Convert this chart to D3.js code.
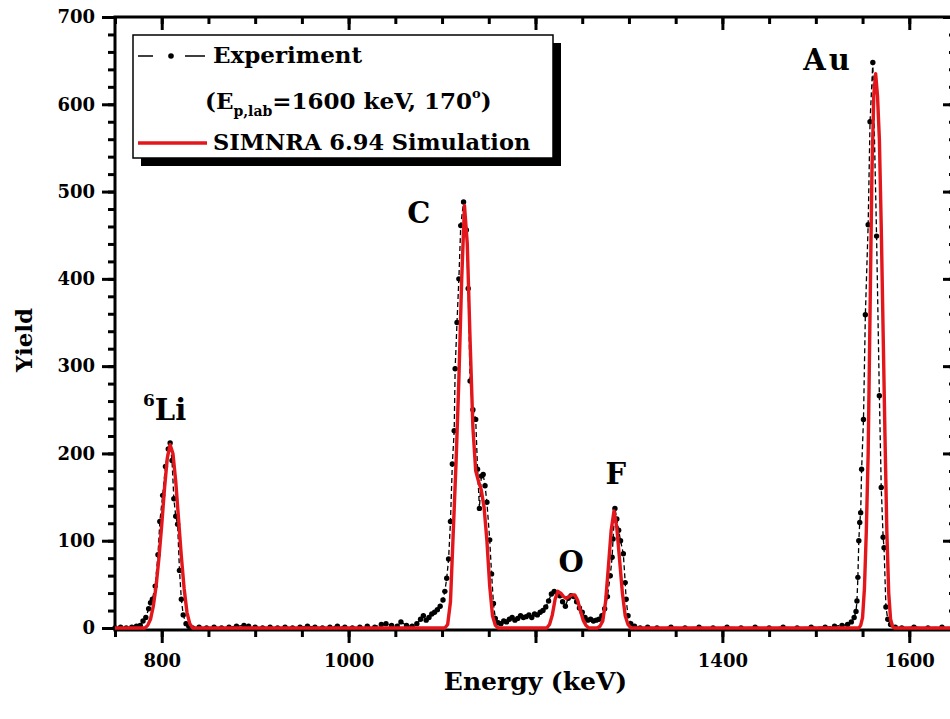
<!DOCTYPE html>
<html>
<head>
<meta charset="utf-8">
<script src="https://cdn.jsdelivr.net/npm/d3@7"></script>
<style>
  body { margin: 0; background: #fff; }
  svg { display: block; }
</style>
</head>
<body>
<svg id="chart"></svg>
<script>
// experiment: energy (keV) and yield
const expEnergy = [750, 756, 762, 768, 773, 777, 780, 783, 786, 788, 790, 793, 796, 798, 801, 804, 807, 809, 811, 813, 815, 817, 819, 821, 823, 826, 829, 833,
  840, 848, 856, 864, 872, 880, 888, 893, 900, 908, 916, 924, 932, 940, 948, 956, 964, 972, 980, 988, 996, 1004, 1012, 1020, 1028, 1035, 1040, 1046, 1052, 1056, 1062, 1068, 1073, 1077,
  1080, 1083, 1086, 1089, 1092, 1095, 1098, 1101, 1103, 1105, 1107, 1109, 1111, 1113, 1114, 1116, 1118, 1120, 1123, 1126, 1128, 1130, 1133, 1136, 1138, 1140, 1142, 1144, 1146, 1148, 1151, 1153, 1155, 1157,
  1160, 1163, 1166, 1169, 1172, 1175, 1178, 1181, 1184, 1187, 1190, 1193, 1196, 1199, 1202, 1205, 1208, 1211, 1214, 1217, 1220, 1223, 1226, 1229, 1232, 1235, 1238, 1241, 1244, 1247, 1250, 1253, 1256, 1259,
  1262, 1265, 1268, 1271, 1274, 1277, 1280, 1282, 1283, 1285, 1287, 1289, 1291, 1294, 1296, 1297, 1299, 1302, 1306, 1312, 1320, 1330, 1345, 1360, 1375, 1390, 1405, 1420, 1435, 1450, 1465, 1480, 1495,
  1510, 1520, 1528, 1534, 1538, 1541, 1543, 1544, 1545, 1546, 1547, 1548, 1549, 1551, 1553, 1556, 1558, 1561, 1565, 1568, 1570, 1572, 1573, 1575, 1577, 1580, 1585, 1592, 1605, 1620, 1635, 1650];
const expYield = [0, 1, 0, 1, 2, 3, 8, 12, 22, 29, 33, 48, 84, 122, 152, 185, 205, 212, 192, 148, 128, 119, 66, 33, 15, 5, 2, 0,
  1, 0, 1, 0, 1, 2, 3, 2, 1, 0, 1, 0, 1, 0, 1, 2, 1, 0, 1, 2, 1, 0, 1, 2, 1, 4, 5, 3, 2, 7, 3, 2, 5, 10,
  14, 9, 12, 16, 18, 21, 25, 32, 42, 57, 79, 122, 188, 226, 297, 350, 400, 461, 488, 456, 389, 283, 250, 239, 182, 137, 174, 176, 163, 144, 101, 62, 28, 11,
  6, 5, 8, 7, 10, 12, 9, 11, 14, 12, 13, 15, 12, 16, 15, 18, 20, 24, 31, 39, 42, 40, 37, 30, 25, 34, 37, 36, 30, 23, 18, 12, 9, 10,
  8, 9, 10, 14, 22, 36, 60, 81, 102, 137, 125, 112, 100, 85, 52, 33, 14, 5, 2, 0, 1, 0, 1, 0, 1, 0, 1, 0, 1, 0, 1, 0, 1,
  1, 2, 3, 4, 7, 12, 19, 31, 58, 100, 121, 132, 182, 239, 359, 462, 580, 648, 449, 266, 161, 104, 92, 24, 10, 4, 1, 0, 1, 0, 1, 0];

// SIMNRA simulation: energy (keV) and yield
const simEnergy = [750, 782, 785, 788, 791, 794, 797, 800, 803, 806, 809, 812, 815, 818, 821, 824, 827, 830, 833,
  1100, 1103, 1106, 1109, 1112, 1115, 1118, 1121, 1124, 1127, 1130, 1133, 1136, 1139, 1142, 1145, 1148, 1151, 1154, 1157, 1160,
  1212, 1215, 1218, 1221, 1224, 1227, 1230, 1233, 1236, 1239, 1242, 1245, 1248, 1251, 1254, 1257,
  1266, 1269, 1272, 1275, 1278, 1281, 1284, 1287, 1290, 1293, 1296, 1299, 1302,
  1546, 1548, 1550, 1552, 1554, 1556, 1558, 1560, 1562, 1564, 1566, 1568, 1570, 1572, 1574, 1576, 1578, 1580, 1582, 1584, 1650];
const simYield = [0, 0, 3, 10, 25, 48, 80, 118, 160, 195, 210, 200, 168, 125, 82, 45, 18, 5, 0,
  0, 0, 4, 30, 110, 190, 285, 399, 484, 440, 330, 230, 180, 168, 158, 138, 100, 48, 14, 3, 0,
  0, 4, 15, 33, 42, 40, 36, 34, 36, 38, 38, 32, 20, 9, 3, 0,
  0, 2, 8, 30, 70, 112, 134, 115, 78, 40, 14, 4, 0,
  0, 3, 12, 45, 110, 200, 360, 520, 610, 635, 610, 560, 460, 340, 220, 110, 40, 10, 2, 0, 0];

const xTicks = [800, 1000, 1200, 1400, 1600];
const xTickLabels = ["800", "1000", "", "1400", "1600"];
const yTicks = [0, 100, 200, 300, 400, 500, 600, 700];

const width = 950, height = 719;
const marginLeft = 115, plotRight = 956, plotTop = 17, plotBottom = 628;
const font = "'DejaVu Serif', serif";
const red = "#e3171b";

const x = d3.scaleLinear([750, 1650], [marginLeft, plotRight]);
const y = d3.scaleLinear([0, 700], [plotBottom, plotTop]);

const svg = d3.select("#chart")
    .attr("width", width)
    .attr("height", height)
    .attr("viewBox", [0, 0, width, height]);

const xMinor = d3.range(750, 1651, 50);
const yMinor = d3.range(0, 701, 20);

function styleAxis(g) {
    g.select(".domain").remove();
    g.selectAll(".tick line").attr("stroke", "#000").attr("stroke-width", 3);
    g.selectAll(".tick text")
        .attr("fill", "#000")
        .attr("font-family", font)
        .attr("font-weight", "bold")
        .attr("font-size", 18);
}

// bottom axis (outward ticks)
svg.append("g").attr("transform", `translate(0,${plotBottom + 2})`)
    .call(d3.axisBottom(x).tickValues(xMinor).tickSize(7).tickFormat(""))
    .call(styleAxis);
svg.append("g").attr("transform", `translate(0,${plotBottom + 2})`)
    .call(d3.axisBottom(x).tickValues(xTicks).tickSize(13).tickPadding(11)
        .tickFormat((d, i) => xTickLabels[i]))
    .call(styleAxis);

// top axis (inward ticks)
svg.append("g").attr("transform", `translate(0,${plotTop})`)
    .call(d3.axisTop(x).tickValues(xMinor).tickSize(-7).tickFormat(""))
    .call(styleAxis);
svg.append("g").attr("transform", `translate(0,${plotTop})`)
    .call(d3.axisTop(x).tickValues(xTicks).tickSize(-13).tickFormat(""))
    .call(styleAxis);

// left axis (outward ticks)
svg.append("g").attr("transform", `translate(${marginLeft},0)`)
    .call(d3.axisLeft(y).tickValues(yMinor).tickSize(7).tickFormat(""))
    .call(styleAxis);
svg.append("g").attr("transform", `translate(${marginLeft},0)`)
    .call(d3.axisLeft(y).tickValues(yTicks).tickSize(13).tickPadding(7).tickFormat(d3.format("d")))
    .call(styleAxis);

// right axis (inward ticks)
svg.append("g").attr("transform", `translate(${plotRight},0)`)
    .call(d3.axisRight(y).tickValues(yMinor).tickSize(-7).tickFormat(""))
    .call(styleAxis);
svg.append("g").attr("transform", `translate(${plotRight},0)`)
    .call(d3.axisRight(y).tickValues(yTicks).tickSize(-13).tickFormat(""))
    .call(styleAxis);

// frame
svg.append("path")
    .attr("d", `M${marginLeft},${plotTop}H${plotRight}V${plotBottom + 2}H${marginLeft}Z`)
    .attr("fill", "none")
    .attr("stroke", "#000")
    .attr("stroke-width", 3);

// axis titles
svg.append("text")
    .attr("x", (marginLeft + plotRight) / 2)
    .attr("y", 690)
    .attr("text-anchor", "middle")
    .attr("font-family", font)
    .attr("font-weight", "bold")
    .attr("font-size", 25)
    .text("Energy (keV)");

svg.append("text")
    .attr("transform", "translate(32,340) rotate(-90)")
    .attr("text-anchor", "middle")
    .attr("font-family", font)
    .attr("font-weight", "bold")
    .attr("font-size", 23)
    .text("Yield");

// experiment: dashed line with dots
const I = d3.range(expEnergy.length);
svg.append("path")
    .attr("d", d3.line().x(i => x(expEnergy[i])).y(i => y(expYield[i]))(I))
    .attr("fill", "none")
    .attr("stroke", "#000")
    .attr("stroke-width", 1.3)
    .attr("stroke-dasharray", "5,3");
svg.append("g")
    .selectAll("circle")
    .data(I)
    .join("circle")
    .attr("cx", i => x(expEnergy[i]))
    .attr("cy", i => y(expYield[i]))
    .attr("r", 2.7)
    .attr("fill", "#000");

// simulation: red line
const J = d3.range(simEnergy.length);
svg.append("path")
    .attr("d", d3.line().x(i => x(simEnergy[i])).y(i => y(simYield[i]))(J))
    .attr("fill", "none")
    .attr("stroke", red)
    .attr("stroke-width", 3.4)
    .attr("stroke-linejoin", "round");

// peak labels
const peaks = [
    {e: 803, v: 238, sup: "6", name: "Li"},
    {e: 1075, v: 464, name: "C"},
    {e: 1238, v: 64, name: "O"},
    {e: 1286, v: 165, name: "F"},
    {e: 1513, v: 639, name: "Au"}
];
const lbl = svg.append("g")
    .attr("font-family", font)
    .attr("font-weight", "bold")
    .attr("font-size", 29)
    .attr("text-anchor", "middle")
    .selectAll("text")
    .data(peaks)
    .join("text")
    .attr("x", d => x(d.e))
    .attr("y", d => y(d.v))
    .attr("letter-spacing", d => d.name === "Au" ? 3 : 0);
lbl.filter(d => d.sup).append("tspan")
    .attr("font-size", 17)
    .attr("dy", -14)
    .text(d => d.sup);
lbl.append("tspan")
    .attr("dy", d => d.sup ? 14 : 0)
    .text(d => d.name);

// legend
const legend = svg.append("g").attr("transform", "translate(133,35)");
legend.append("rect")
    .attr("x", 8).attr("y", 8)
    .attr("width", 420).attr("height", 123)
    .attr("fill", "#000");
legend.append("rect")
    .attr("width", 420).attr("height", 123)
    .attr("fill", "#fff")
    .attr("stroke", "#000")
    .attr("stroke-width", 1.5);

legend.append("path")
    .attr("d", "M5,21H20M52,21H72")
    .attr("stroke", "#000")
    .attr("stroke-width", 1.3);
legend.append("circle")
    .attr("cx", 38).attr("cy", 21).attr("r", 2.8)
    .attr("fill", "#000");
legend.append("path")
    .attr("d", "M5,108H74")
    .attr("stroke", red)
    .attr("stroke-width", 3.5);

const legText = legend.append("g")
    .attr("font-family", font)
    .attr("font-weight", "bold")
    .attr("font-size", 23)
    .attr("fill", "#000");
legText.append("text").attr("x", 80).attr("y", 28).text("Experiment");
const cond = legText.append("text").attr("x", 72).attr("y", 74);
cond.append("tspan").text("(E");
cond.append("tspan").attr("font-size", 14).attr("dy", 7).text("p,lab");
cond.append("tspan").attr("dy", -7).text("=1600 keV, 170");
cond.append("tspan").attr("font-size", 13).attr("dy", -11).text("o");
cond.append("tspan").attr("dy", 11).text(")");
legText.append("text").attr("x", 80).attr("y", 115).attr("font-size", 22.5).text("SIMNRA 6.94 Simulation");
</script>
</body>
</html>
